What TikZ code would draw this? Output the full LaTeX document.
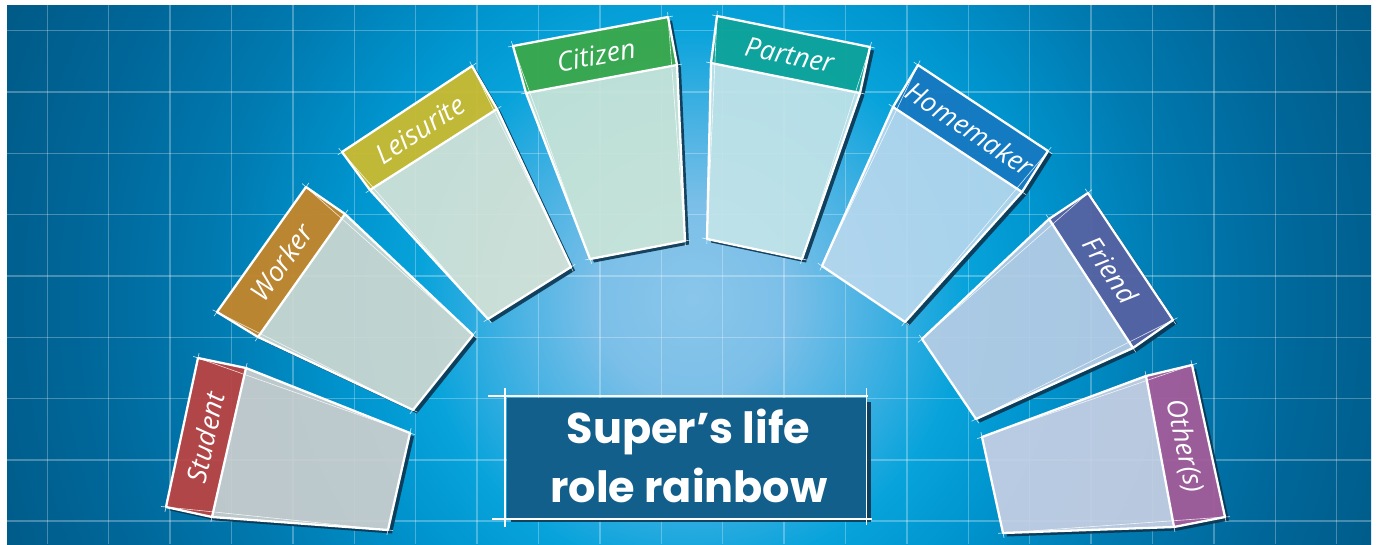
\documentclass[tikz,border=0pt]{standalone}
\usepackage{fontspec}
\newfontfamily\titlefont{Poppins}
\newfontfamily\labelfont{Open Sans}
\usetikzlibrary{calc}
\definecolor{bgA}{HTML}{8AC6EB}
\definecolor{bgB}{HTML}{7BBFE8}
\definecolor{bgC}{HTML}{3FB0E2}
\definecolor{bgD}{HTML}{08A3DB}
\definecolor{bgE}{HTML}{0095CF}
\definecolor{bgF}{HTML}{007AB0}
\definecolor{bgG}{HTML}{00679A}
\definecolor{bgH}{HTML}{005B88}
\definecolor{bgI}{HTML}{005682}
\pgfdeclareradialshading{bgshade}{\pgfpoint{0bp}{0bp}}{color(0bp)=(bgA); color(3bp)=(bgB); color(6bp)=(bgC); color(8.5bp)=(bgD); color(11bp)=(bgE); color(15bp)=(bgF); color(19bp)=(bgG); color(23bp)=(bgH); color(25bp)=(bgI); color(50bp)=(bgI)}
% band colours
\definecolor{bStudent}{HTML}{BB4444}
\definecolor{bWorker}{HTML}{C4862A}
\definecolor{bLeisure}{HTML}{CBBB2F}
\definecolor{bCitizen}{HTML}{3BA84B}
\definecolor{bPartner}{HTML}{0EA39A}
\definecolor{bHome}{HTML}{1679C1}
\definecolor{bFriend}{HTML}{5662A2}
\definecolor{bOther}{HTML}{A45C9A}
% body colours
\definecolor{cStudent}{HTML}{CDCFCE}
\definecolor{cWorker}{HTML}{CFD9D1}
\definecolor{cLeisure}{HTML}{D5E3D7}
\definecolor{cCitizen}{HTML}{CAE5D8}
\definecolor{cPartner}{HTML}{C3E4E8}
\definecolor{cHome}{HTML}{B7D8EE}
\definecolor{cFriend}{HTML}{B8CDE5}
\definecolor{cOther}{HTML}{C8D0E4}
\definecolor{shadowc}{HTML}{0B3550}
\definecolor{titlebox}{HTML}{135F8B}
\tikzset{
  gridline/.style={line width=1.4pt, white, opacity=0.28},
  cardshadow/.style={fill=shadowc, opacity=0.9},
  sketch/.style={white, line width=2.3pt, line join=round, line cap=round},
  sketchext/.style={white, line width=0.6pt, opacity=0.8, shorten <=-5pt, shorten >=-5pt},
  cardlabel/.style={text=white, font=\labelfont\itshape\fontsize{27}{32}\selectfont, inner sep=0pt},
  titletext/.style={text=white, font=\titlefont\bfseries\fontsize{43}{50}\selectfont, inner sep=0pt, anchor=base},
}
\newcommand\lifecard[6]{%
  \begin{scope}
    \ifnum#6=1
      \clip (-10,-10)--(1390,-10)--(1390,560)--(-10,560)--cycle (#1o1)--(#1o2)--(#1b2)--(#1i2)--(#1i1)--(#1b1)--cycle;
    \else
      \clip (-10,-10)--(-10,560)--(1390,560)--(1390,-10)--cycle (#1o1)--(#1o2)--(#1b2)--(#1i2)--(#1i1)--(#1b1)--cycle;
    \fi
    \fill[cardshadow] ([shift={(4,3.5)}]#1o1) -- ([shift={(4,3.5)}]#1o2) -- ([shift={(4,3.5)}]#1b2) -- ([shift={(4,3.5)}]#1i2) -- ([shift={(4,3.5)}]#1i1) -- ([shift={(4,3.5)}]#1b1) -- cycle;
  \end{scope}
  \fill[#3, opacity=0.92] (#1b1)--(#1b2)--(#1i2)--(#1i1)--cycle;
  \fill[#2, opacity=0.95] (#1o1)--(#1o2)--(#1b2)--(#1b1)--cycle;
  \draw[sketchext] (#1o1)--(#1o2);
  \draw[sketchext] (#1o2)--(#1i2);
  \draw[sketchext] (#1i2)--(#1i1);
  \draw[sketchext] (#1i1)--(#1o1);
  \draw[sketchext] (#1b1)--(#1b2);
  \draw[sketch] (#1o1)--(#1o2)--(#1b2)--(#1i2)--(#1i1)--(#1b1)--cycle;
  \draw[sketch] (#1b1)--(#1b2);
  \node[cardlabel, rotate=#5] (#1lab) at (barycentric cs:#1o1=1,#1o2=1,#1b2=1,#1b1=1) {#4};
}
\begin{document}
\begin{tikzpicture}[x=1pt, y=-1pt]
\useasboundingbox (0,0) rectangle (1377,544);
\fill[white] (0,0) rectangle (1377,544);
\begin{scope}
  \clip (7,5) rectangle (1371,544);
  \shade[shading=bgshade] (692,300) circle (800);
  \foreach \i in {0,...,21} {
    \draw[gridline] ({47.3+61.4*\i},5) -- ({47.3+61.4*\i},544);
  }
  \foreach \j in {0,...,8} {
    \draw[gridline] (7,{30.7+61.3*\j}) -- (1371,{30.7+61.3*\j});
  }
\end{scope}
% Student
\coordinate (sto1) at (198,358); \coordinate (sto2) at (166,507);
\coordinate (stb1) at (246,368); \coordinate (stb2) at (212,517);
\coordinate (sti1) at (410,433); \coordinate (sti2) at (388,530);
\lifecard{st}{bStudent}{cStudent}{Student}{78}{1}
% Worker
\coordinate (wko1) at (306,187); \coordinate (wko2) at (217,312);
\coordinate (wkb1) at (345,214); \coordinate (wkb2) at (258,337);
\coordinate (wki1) at (473,335); \coordinate (wki2) at (413,410);
\lifecard{wk}{bWorker}{cWorker}{Worker}{54.5}{1}
% Leisurite
\coordinate (lso1) at (472,66); \coordinate (lso2) at (342,152);
\coordinate (lsb1) at (497,109); \coordinate (lsb2) at (370,190);
\coordinate (lsi1) at (571,267); \coordinate (lsi2) at (488,319);
\lifecard{ls}{bLeisure}{cLeisure}{Leisurite}{33.5}{1}
% Citizen
\coordinate (cto1) at (513,46); \coordinate (cto2) at (668,17);
\coordinate (ctb1) at (526,93); \coordinate (ctb2) at (677,65);
\coordinate (cti1) at (590,259); \coordinate (cti2) at (685,241);
\lifecard{ct}{bCitizen}{cCitizen}{Citizen}{10.6}{2}
% Partner
\coordinate (pto1) at (717,16); \coordinate (pto2) at (870,47);
\coordinate (ptb1) at (711,63); \coordinate (ptb2) at (860,93);
\coordinate (pti1) at (707,239); \coordinate (pti2) at (802,259);
\lifecard{pt}{bPartner}{cPartner}{Partner}{-11.5}{2}
% Homemaker
\coordinate (hmo1) at (918,65); \coordinate (hmo2) at (1048,151);
\coordinate (hmb1) at (893,107); \coordinate (hmb2) at (1022,192);
\coordinate (hmi1) at (822,266); \coordinate (hmi2) at (905,322);
\lifecard{hm}{bHome}{cHome}{Homemaker}{-33.5}{2}
% Friend
\coordinate (fro1) at (1088,193); \coordinate (fro2) at (1173,320);
\coordinate (frb1) at (1049,219); \coordinate (frb2) at (1133,348);
\coordinate (fri1) at (922,339); \coordinate (fri2) at (976,419);
\lifecard{fr}{bFriend}{cFriend}{Friend}{-56}{2}
% Other(s)
\coordinate (oto1) at (1192,365); \coordinate (oto2) at (1225,517);
\coordinate (otb1) at (1146,376); \coordinate (otb2) at (1174,527);
\coordinate (oti1) at (982,437); \coordinate (oti2) at (1003,533);
\lifecard{ot}{bOther}{cOther}{Other(s)}{-77.8}{2}
% Title box
\fill[shadowc, opacity=0.9] (511,402) rectangle (871,522);
\fill[titlebox] (507,398) rectangle (867,518);
\draw[white, line width=1.3pt] (488,396) -- (868,396);
\draw[white, line width=1.3pt] (505,388) -- (505,527);
\draw[white, line width=1.3pt] (866.5,388) -- (866.5,525);
\draw[white, line width=1.3pt] (492,519) -- (872,519);
\node[titletext] (title1) at (688.5,443) {Super’s life};
\node[titletext] (title2) at (689,502) {role rainbow};
\end{tikzpicture}
\end{document}
